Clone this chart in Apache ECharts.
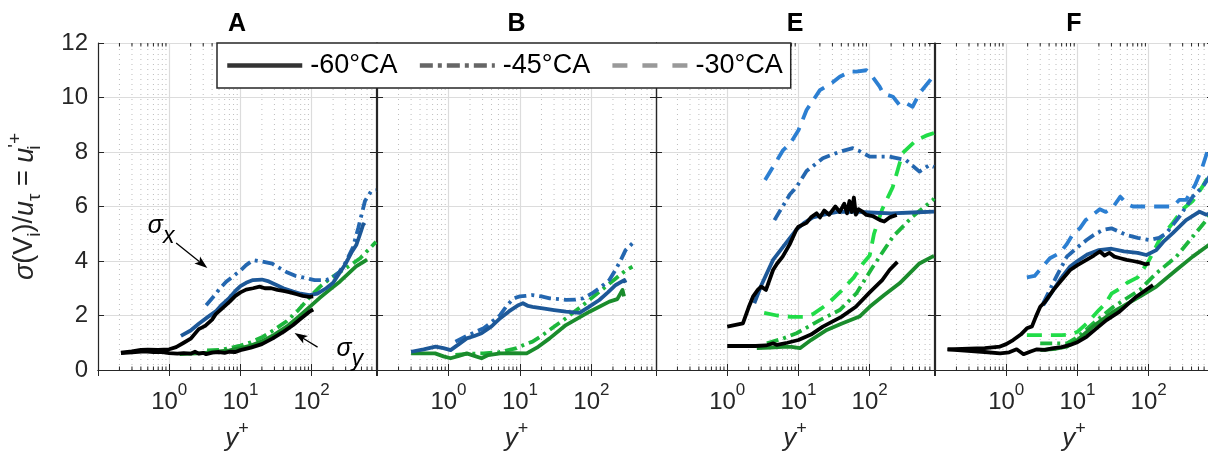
<!DOCTYPE html>
<html>
<head>
<meta charset="utf-8">
<script src="https://cdn.jsdelivr.net/npm/echarts@6/dist/echarts.min.js"></script>
<style>
  html, body { margin: 0; padding: 0; background: #fff; }
  #chart { width: 1208px; height: 459px; }
</style>
</head>
<body>
<div id="chart"></div>
<script>
// ---- axis ranges and labels ----
const yMin = 0, yMax = 12, yStep = 2;
const xMin = 0.1, xMax = 800;
const panelNames = ['A', 'B', 'E', 'F'];
const caLabels = ['-60°CA', '-45°CA', '-30°CA'];
const minorTicks = [0.2, 0.3, 0.4, 0.5, 0.6, 0.7, 0.8, 0.9,
  2, 3, 4, 5, 6, 7, 8, 9, 20, 30, 40, 50, 60, 70, 80, 90,
  200, 300, 400, 500, 600, 700];

// ---- panel A : [y+, sigma] ----
const A_black_x = [[0.21,0.64],[0.3,0.68],[0.4,0.74],[0.5,0.75],[0.7,0.74],[1.0,0.76],[1.25,0.84],[1.6,1.0],[2.0,1.15],[2.6,1.5],[3.2,1.62],[4.0,1.85],[4.5,2.05],[5.5,2.25],[7,2.5],[8.5,2.72],[10,2.85],[12,2.95],[15,3.0],[18.6,3.06],[22,3.0],[27,3.0],[33,2.94],[40,2.9],[50,2.85],[62,2.78],[75,2.72],[93,2.68],[105,2.7]];
const A_black_y = [[0.21,0.62],[0.3,0.65],[0.45,0.68],[0.6,0.66],[0.8,0.66],[1.0,0.62],[1.3,0.6],[1.6,0.62],[2.0,0.6],[2.3,0.67],[2.6,0.6],[3.0,0.63],[3.3,0.58],[4,0.64],[5,0.66],[6,0.63],[7,0.67],[8.5,0.66],[10,0.73],[14,0.82],[20,0.95],[28,1.15],[40,1.4],[55,1.65],[70,1.88],[93,2.14],[105,2.22]];
const A_blue_60 = [[1.46,1.25],[2,1.45],[2.6,1.7],[3.5,1.95],[4.5,2.15],[5.5,2.4],[7,2.65],[8.5,2.9],[10,3.08],[12,3.2],[15,3.3],[20,3.32],[25,3.25],[32,3.12],[40,3.0],[55,2.88],[70,2.8],[93,2.75],[120,2.8],[160,3.0],[200,3.2],[245,3.55],[300,3.9],[360,4.3],[425,4.6],[480,5.0],[530,5.35],[560,5.3]];
const A_blue_45 = [[3.3,2.38],[4.2,2.7],[5,2.95],[6.3,3.24],[8,3.45],[10,3.65],[12,3.85],[15,4.03],[20,3.98],[28,3.9],[35,3.75],[44,3.6],[60,3.45],[84,3.37],[110,3.3],[160,3.3],[200,3.4],[245,3.6],[300,3.95],[380,4.5],[450,5.2],[560,6.2],[680,6.55],[800,6.6]];
const A_green_60 = [[1.4,0.58],[2,0.6],[3,0.62],[4,0.66],[5,0.68],[7,0.72],[10,0.8],[14,0.9],[20,1.05],[30,1.3],[45,1.6],[65,1.95],[100,2.38],[130,2.65],[180,2.95],[250,3.25],[330,3.55],[420,3.8],[520,3.95],[600,4.05]];
const A_green_45 = [[3.4,0.72],[5,0.74],[7,0.8],[10,0.9],[14,1.02],[20,1.2],[30,1.48],[45,1.8],[65,2.2],[100,2.75],[130,3.05],[180,3.35],[250,3.6],[350,3.85],[480,4.1],[620,4.4],[800,4.7]];

// ---- panel B ----
const B_blue_60 = [[0.3,0.67],[0.45,0.76],[0.66,0.86],[0.85,0.8],[1.07,0.73],[1.4,0.95],[1.8,1.16],[2.3,1.25],[2.9,1.35],[4,1.6],[5.3,1.9],[7,2.15],[9.5,2.38],[11,2.45],[13,2.35],[15,2.32],[22,2.25],[30,2.2],[44,2.14],[68,2.1],[90,2.3],[129,2.57],[170,2.85],[219,3.12],[288,3.3],[300,3.2]];
const B_blue_45 = [[1.25,1.04],[1.8,1.25],[2.4,1.4],[3.1,1.53],[4,1.75],[5.3,2.02],[6.5,2.35],[8.1,2.63],[10,2.7],[12,2.72],[15,2.75],[20,2.7],[26,2.63],[35,2.6],[44,2.57],[60,2.58],[76,2.63],[100,2.8],[129,3.0],[178,3.3],[220,3.7],[258,4.04],[300,4.4],[375,4.65],[420,4.62]];
const B_green_60 = [[0.3,0.61],[0.65,0.61],[0.85,0.5],[1.07,0.43],[1.4,0.52],[1.8,0.61],[2.3,0.52],[2.9,0.43],[3.6,0.55],[5.3,0.61],[8,0.62],[12.4,0.61],[18,0.85],[26,1.16],[44,1.65],[94,2.14],[178,2.51],[230,2.6],[272,2.94],[285,2.7]];
const B_green_45 = [[1.25,0.55],[2,0.6],[3.1,0.61],[5,0.65],[9,0.8],[12,0.95],[15,1.04],[20,1.25],[26,1.47],[44,1.9],[76,2.38],[129,2.87],[219,3.36],[300,3.65],[375,3.79]];

// ---- panel E ----
const E_black_x = [[1.0,1.59],[1.66,1.71],[2.0,2.3],[2.3,2.69],[2.7,2.95],[3.0,3.06],[3.5,2.94],[4.4,3.67],[5,3.9],[6,4.16],[7.5,4.6],[9.3,5.14],[10,5.26],[13,5.4],[15,5.6],[18,5.75],[20,5.6],[23,5.85],[27,5.7],[33,6.0],[38,5.8],[44,6.1],[48,5.75],[52,6.2],[56,5.8],[60,6.33],[64,5.7],[70,5.9],[80,5.8],[90,5.69],[110,5.65],[140,5.5],[160,5.45],[190,5.6],[240,5.69]];
const E_black_y = [[1.0,0.88],[2.5,0.88],[3.5,0.9],[4.4,0.98],[5,0.92],[7,1.0],[10,1.1],[15,1.3],[22,1.59],[40,1.95],[64,2.32],[100,2.85],[150,3.3],[190,3.67],[245,3.97]];
const E_blue_60 = [[2.4,2.45],[3,3.1],[4.4,4.04],[6,4.5],[9.3,5.14],[12,5.4],[16,5.6],[22,5.69],[35,5.8],[64,5.81],[100,5.78],[200,5.75],[400,5.78],[800,5.81]];
const E_blue_45 = [[4.6,5.5],[6,6.0],[7.6,6.45],[9.3,6.7],[13,7.3],[22,7.77],[38,8.01],[58,8.14],[70,8.05],[100,7.83],[190,7.83],[324,7.7],[500,7.28],[690,7.52],[800,7.45]];
const E_blue_30 = [[3.4,6.97],[4.5,7.5],[6.1,8.07],[7.6,8.3],[10,8.8],[13,9.54],[20,10.27],[30,10.55],[38,10.76],[53,10.95],[65,10.95],[90,11.0],[100,10.9],[138,10.4],[155,10.15],[212,10.03],[263,9.72],[324,9.79],[400,9.66],[500,10.15],[770,10.76],[800,10.8]];
const E_green_60 = [[2.6,0.8],[4,0.82],[6,0.85],[8,0.85],[10.5,0.8],[15,1.1],[25,1.47],[40,1.7],[72,1.96],[100,2.32],[160,2.75],[263,3.18],[500,3.91],[760,4.16],[800,4.18]];
const E_green_45 = [[3.6,0.98],[6,1.15],[9.4,1.35],[14,1.6],[20,1.83],[38,2.2],[65,2.81],[111,3.79],[212,4.89],[400,5.63],[770,6.24],[800,6.3]];
const E_green_30 = [[3.3,2.1],[5,2.0],[8,1.95],[12,1.95],[16,2.05],[25,2.4],[40,2.9],[60,3.4],[80,3.9],[100,4.2],[115,5.0],[150,5.9],[210,6.7],[290,7.96],[455,8.44],[620,8.6],[800,8.7]];

// ---- panel F ----
const F_black_x = [[0.15,0.76],[0.3,0.78],[0.5,0.8],[0.82,0.86],[1.0,0.95],[1.25,1.1],[1.6,1.3],[1.95,1.53],[2.3,1.6],[2.6,1.95],[3.0,2.32],[3.5,2.5],[4.6,2.94],[6,3.3],[7.9,3.67],[10,3.85],[13.4,4.04],[17,4.2],[20.6,4.35],[24,4.2],[28,4.3],[33,4.16],[40,4.1],[49,4.04],[60,4.0],[75,3.95],[90,3.88],[103,3.91]];
const F_black_y = [[0.15,0.76],[0.5,0.66],[0.82,0.61],[1.1,0.65],[1.4,0.76],[1.75,0.58],[2.2,0.68],[2.7,0.76],[3.5,0.74],[4.6,0.8],[6,0.84],[7.9,0.92],[10,1.02],[13.4,1.22],[18,1.5],[25.6,1.83],[39,2.14],[67,2.69],[115,3.12]];
const F_blue_60 = [[3.3,2.38],[4.5,2.9],[6,3.4],[7.9,3.8],[10,4.0],[14,4.25],[20,4.4],[30,4.45],[45,4.35],[70,4.3],[93,4.22],[128,4.4],[160,4.7],[218,5.02],[335,5.5],[518,5.81],[645,5.7],[800,5.8]];
const F_blue_45 = [[3.3,2.45],[5,3.4],[7.1,4.16],[10,4.5],[13.4,4.77],[18,5.0],[23,5.14],[30,5.2],[49,4.95],[70,4.85],[103,4.77],[140,4.85],[177,5.02],[270,5.63],[415,6.36],[575,6.73],[800,7.3]];
const F_blue_30 = [[1.95,3.4],[2.5,3.45],[4.1,4.1],[5.7,4.3],[7,4.6],[8.7,5.0],[10.8,5.2],[13,5.5],[16.6,5.7],[20.6,5.9],[25,5.8],[32,6.0],[40,6.36],[49,6.1],[60,6.0],[93,6.0],[141,6.0],[218,6.0],[270,6.24],[335,6.24],[450,6.8],[560,7.4],[645,7.9],[800,8.6]];
const F_green_60 = [[3,0.73],[5,0.78],[7.1,0.86],[10,1.1],[16.6,1.6],[32,2.14],[75,2.69],[128,3.06],[244,3.67],[415,4.16],[645,4.52],[800,4.7]];
const F_green_45 = [[3,0.98],[5,0.98],[7.1,0.98],[10,1.2],[16.6,1.71],[32,2.32],[75,2.94],[128,3.55],[244,4.16],[415,4.89],[645,5.5],[800,5.8]];
const F_green_30 = [[1.95,1.28],[3,1.28],[4.5,1.28],[6,1.28],[8,1.3],[10,1.4],[14,1.75],[20,2.2],[25,2.45],[30,2.8],[40,3.0],[50,3.2],[70,3.4],[100,4.0],[141,4.77],[218,5.4],[300,5.9],[415,6.2],[560,6.7],[645,6.97],[800,7.3]];

// ---- arrow annotations in panel A: [fromX, fromY, toX, toY, textX, textY, subscript] ----
const sigmaNotes = [
  [1.25, 4.66, 3.43, 3.74, 0.77, 5.28, 'x'],
  [121, 0.84, 57.5, 1.36, 343, 0.77, 'y']
];

// ---- styling ----
const FONT = '"Liberation Sans", Arial, Helvetica, sans-serif';
const INK = '#262626';
const GRID_LEFT = [98, 377, 656, 935];
const GRID_W = [278, 279, 278, 278];
const GRID_TOP = 43, GRID_H = 327;
const DASHDOT = [12, 5, 3, 5];
const DASHED = [15, 9];
const LW = 3.8;

const lineKinds = {
  green30: { color: '#21dc48', type: DASHED },
  green45: { color: '#1db73c', type: DASHDOT },
  green60: { color: '#1a8c2c', type: 'solid' },
  blue30:  { color: '#2c7fd2', type: DASHED },
  blue45:  { color: '#2467b0', type: DASHDOT },
  blue60:  { color: '#1d5898', type: 'solid' },
  blackY:  { color: '#000000', type: 'solid' },
  blackX:  { color: '#000000', type: 'solid' }
};

const panelLines = [
  [['green45', A_green_45], ['green60', A_green_60], ['blue45', A_blue_45], ['blue60', A_blue_60], ['blackY', A_black_y], ['blackX', A_black_x]],
  [['green45', B_green_45], ['green60', B_green_60], ['blue45', B_blue_45], ['blue60', B_blue_60]],
  [['green30', E_green_30], ['green45', E_green_45], ['green60', E_green_60], ['blue30', E_blue_30], ['blue45', E_blue_45], ['blue60', E_blue_60], ['blackY', E_black_y], ['blackX', E_black_x]],
  [['green30', F_green_30], ['green45', F_green_45], ['green60', F_green_60], ['blue30', F_blue_30], ['blue45', F_blue_45], ['blue60', F_blue_60], ['blackY', F_black_y], ['blackX', F_black_x]]
];

const xLabelRich = {
  b: { fontSize: 24, fontFamily: FONT, color: INK, lineHeight: 32, verticalAlign: 'bottom' },
  s: { fontSize: 17, fontFamily: FONT, color: INK, lineHeight: 20, verticalAlign: 'top' }
};

function decadeLabel(v) {
  const e = Math.log10(v);
  const r = Math.round(e);
  if (Math.abs(e - r) > 1e-6 || r < 0 || r > 2) return '';
  return '{b|10}{s|' + r + '}';
}

const grids = [], xAxes = [], yAxes = [], series = [], titles = [];

panelNames.forEach((name, i) => {
  grids.push({ left: GRID_LEFT[i], top: GRID_TOP, width: GRID_W[i], height: GRID_H, outerBoundsMode: 'none' });
  titles.push({
    text: name, left: GRID_LEFT[i] + GRID_W[i] / 2, top: 12, textAlign: 'center', padding: 0,
    textStyle: { fontSize: 25, fontWeight: 'bold', color: '#000', fontFamily: FONT }
  });
  const logAxis = {
    type: 'log', logBase: 10, gridIndex: i, min: xMin, max: xMax,
    axisLine: { show: true, lineStyle: { color: INK, width: 1.2 } },
    axisTick: { show: true, inside: true, length: 6, lineStyle: { color: INK, width: 1 } },
    minorTick: { show: false }, minorSplitLine: { show: false }
  };
  xAxes.push(Object.assign({}, logAxis, {
    position: 'bottom',
    axisLabel: { show: true, margin: 12, formatter: decadeLabel, rich: xLabelRich, showMinLabel: true, showMaxLabel: true, hideOverlap: false },
    splitLine: { show: true, lineStyle: { color: '#dcdcdc', width: 1.2 } },
    name: '{i|y}{p|+}', nameLocation: 'middle', nameGap: 50,
    nameTextStyle: { rich: {
      i: { fontSize: 26, fontStyle: 'italic', fontFamily: FONT, color: INK, lineHeight: 32, verticalAlign: 'bottom' },
      p: { fontSize: 18, fontFamily: FONT, color: INK, lineHeight: 20, verticalAlign: 'top' }
    } }
  }));
  xAxes.push(Object.assign({}, logAxis, {
    position: 'top', axisLabel: { show: false }, splitLine: { show: false }
  }));
  const valAxis = {
    type: 'value', gridIndex: i, min: yMin, max: yMax, interval: yStep,
    axisLine: { show: true, lineStyle: { color: INK, width: 1.2 } },
    axisTick: { show: true, inside: true, length: 6, lineStyle: { color: INK, width: 1 } }
  };
  const left = Object.assign({}, valAxis, {
    position: 'left',
    axisLabel: { show: i === 0, margin: 10, fontSize: 24, color: INK, fontFamily: FONT },
    splitLine: { show: true, lineStyle: { color: '#dcdcdc', width: 1.2 } }
  });
  if (i === 0) {
    Object.assign(left, {
      name: '{g|σ}{m|(V}{sb|i}{m|)/}{g|u}{sb|τ}{m| = }{g|u}{sz|i}{sp|\'+}',
      nameLocation: 'middle', nameGap: 54, nameRotate: 90,
      nameTextStyle: { rich: {
        m: { fontSize: 27, fontFamily: FONT, color: INK, lineHeight: 38 },
        g: { fontSize: 27, fontFamily: FONT, fontStyle: 'italic', color: INK, lineHeight: 38 },
        sb: { fontSize: 19, fontFamily: FONT, color: INK, lineHeight: 22, verticalAlign: 'bottom' },
        sz: { fontSize: 19, fontFamily: FONT, color: INK, lineHeight: 22, verticalAlign: 'bottom', width: 0 },
        sp: { fontSize: 19, fontFamily: FONT, color: INK, lineHeight: 22, verticalAlign: 'top' }
      } }
    });
  }
  yAxes.push(left);
  yAxes.push(Object.assign({}, valAxis, {
    position: 'right', axisLabel: { show: false }, splitLine: { show: false }
  }));

  // dotted minor grid with short minor ticks on the log axis
  series.push({
    type: 'custom', xAxisIndex: i * 2, yAxisIndex: i * 2, z: 1, silent: true,
    data: minorTicks.map(v => [v, yMin]),
    renderItem: function (params, api) {
      const v = api.value(0);
      const b = api.coord([v, yMin]);
      const t = api.coord([v, yMax]);
      return { type: 'group', children: [
        { type: 'line', shape: { x1: b[0], y1: b[1], x2: t[0], y2: t[1] }, style: { stroke: '#bdbdbd', lineWidth: 1, lineDash: [1, 4] } },
        { type: 'line', shape: { x1: b[0], y1: b[1], x2: b[0], y2: b[1] - 3.5 }, style: { stroke: INK, lineWidth: 1 } },
        { type: 'line', shape: { x1: t[0], y1: t[1], x2: t[0], y2: t[1] + 3.5 }, style: { stroke: INK, lineWidth: 1 } }
      ] };
    }
  });

  panelLines[i].forEach(([kind, data]) => {
    const k = lineKinds[kind];
    series.push({
      type: 'line', xAxisIndex: i * 2, yAxisIndex: i * 2, data: data,
      showSymbol: false, symbol: 'none', z: 3, silent: true,
      lineStyle: { color: k.color, width: LW, type: k.type, cap: 'butt', join: 'round' },
      itemStyle: { color: k.color }
    });
  });
});

// sigma_x / sigma_y labels with arrows in panel A
series.push({
  type: 'custom', xAxisIndex: 0, yAxisIndex: 0, z: 5, silent: true,
  data: sigmaNotes,
  renderItem: function (params, api) {
    const p0 = api.coord([api.value(0), api.value(1)]);
    const p1 = api.coord([api.value(2), api.value(3)]);
    const pt = api.coord([api.value(4), api.value(5)]);
    const sub = sigmaNotes[params.dataIndex][6];
    const dx = p1[0] - p0[0], dy = p1[1] - p0[1];
    const len = Math.sqrt(dx * dx + dy * dy);
    const ux = dx / len, uy = dy / len;
    const hl = 13, hw = 4.5;
    const bx = p1[0] - ux * hl, by = p1[1] - uy * hl;
    return { type: 'group', children: [
      { type: 'line', shape: { x1: p0[0], y1: p0[1], x2: bx + ux * 3, y2: by + uy * 3 }, style: { stroke: '#000', lineWidth: 1.3 } },
      { type: 'polygon', shape: { points: [[p1[0], p1[1]], [bx - uy * hw, by + ux * hw], [bx + ux * 3, by + uy * 3], [bx + uy * hw, by - ux * hw]] }, style: { fill: '#000' } },
      { type: 'text', x: pt[0], y: pt[1], style: {
        text: '{s|σ}{d|' + sub + '}', align: 'center', verticalAlign: 'middle',
        rich: {
          s: { fontSize: 25, fontStyle: 'italic', fontFamily: FONT, fill: '#000', lineHeight: 44 },
          d: { fontSize: 23, fontStyle: 'italic', fontFamily: FONT, fill: '#000', lineHeight: 22, verticalAlign: 'bottom' }
        } } }
    ] };
  }
});

// legend entries (line style per crank angle)
const legendStyles = [
  { color: '#333333', type: 'solid' },
  { color: '#666666', type: [13, 5, 4, 5] },
  { color: '#999999', type: [15, 15] }
];
caLabels.forEach((lab, j) => {
  series.push({
    type: 'line', name: lab, xAxisIndex: 0, yAxisIndex: 0, data: [], symbol: 'none',
    lineStyle: { color: legendStyles[j].color, width: 4.5, type: legendStyles[j].type },
    itemStyle: { color: legendStyles[j].color, opacity: 0 }
  });
});

const option = {
  animation: false,
  backgroundColor: '#ffffff',
  title: titles,
  grid: grids,
  xAxis: xAxes,
  yAxis: yAxes,
  legend: {
    show: true, left: 217, top: 43, orient: 'horizontal',
    data: caLabels, selectedMode: false,
    itemWidth: 75, itemHeight: 22, itemGap: 20,
    padding: [9, 8, 9, 8],
    borderColor: INK, borderWidth: 1.5, borderRadius: 0, backgroundColor: '#ffffff',
    itemStyle: { opacity: 0 },
    lineStyle: { width: 4.5, cap: 'butt' },
    textStyle: { fontSize: 27, color: '#000', fontFamily: FONT, padding: [0, 0, 0, 3] }
  },
  series: series
};

const chart = echarts.init(document.getElementById('chart'), null, { renderer: 'canvas' });
chart.setOption(option);
</script>
</body>
</html>
